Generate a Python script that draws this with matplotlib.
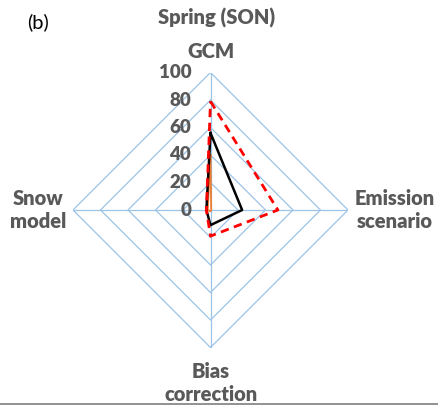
import matplotlib
matplotlib.use("Agg")
import matplotlib.pyplot as plt
import numpy as np

# Axes of the radar chart, clockwise from the top
categories = ["GCM", "Emission\nscenario", "Bias\ncorrection", "Snow\nmodel"]
ring_levels = [20, 40, 60, 80, 100]
tick_labels = ["0", "20", "40", "60", "80", "100"]

# Series values (percent), same order as categories
orange_vals = [40, 0.5, 1, 2]
black_vals = [56, 23, 11, 3]
red_vals = [79, 49, 19, 3]

angles = np.deg2rad([90, 0, -90, 180])


def to_xy(vals):
    v = np.asarray(vals, dtype=float)
    x = v * np.cos(angles)
    y = v * np.sin(angles)
    return np.append(x, x[0]), np.append(y, y[0])


text_color = "#595959"
grid_color = "#9DC3E6"
font = ["Lato", "DejaVu Sans"]

fig = plt.figure(figsize=(4.38, 4.13), dpi=100)
ax = fig.add_axes([73 / 438, 65.5 / 413, 275 / 438, 275 / 413])
ax.set_xlim(-100, 100)
ax.set_ylim(-100, 100)
ax.axis("off")

# rings and spokes
for r in ring_levels:
    gx, gy = to_xy([r] * 4)
    ax.plot(gx, gy, color=grid_color, lw=0.9, zorder=1)
for a in angles:
    ax.plot([0, 100 * np.cos(a)], [0, 100 * np.sin(a)], color=grid_color, lw=0.9, zorder=1)

# value labels along the GCM axis
for lab in tick_labels:
    ax.text(-14, float(lab), lab, ha="right", va="center", fontsize=13.5,
            fontweight="heavy", color=text_color, family=font, zorder=2)

# series
ox, oy = to_xy(orange_vals)
ax.plot(ox, oy, color="#ED7D31", lw=1.3, zorder=3)
bx, by = to_xy(black_vals)
ax.plot(bx, by, color="black", lw=1.8, zorder=4)
rx, ry = to_xy(red_vals)
ax.plot(rx, ry, color="#FF0000", lw=2.0, ls=(0, (3, 2)), zorder=5)

# category labels
kw = dict(fontsize=14.5, fontweight="heavy", color=text_color, family=font,
          ha="center", va="center", linespacing=1.3)
fig.text(211 / 438, 1 - 52 / 413, categories[0], **kw)
fig.text(395 / 438, 1 - 210 / 413, categories[1], **kw)
fig.text(211 / 438, 1 - 383 / 413, categories[2], **kw)
fig.text(38 / 438, 1 - 210 / 413, categories[3], **kw)

fig.text(217 / 438, 1 - 18 / 413, "Spring (SON)", **kw)
fig.text(38 / 438, 1 - 22 / 413, "(b)", fontsize=14.5, color="black", family=font,
         ha="center", va="center")

# bottom rule
fig.add_artist(plt.Line2D([0, 1], [1 - 404 / 413] * 2, color="#7F7F7F", lw=1.2))

fig.savefig("out.png", dpi=100)
